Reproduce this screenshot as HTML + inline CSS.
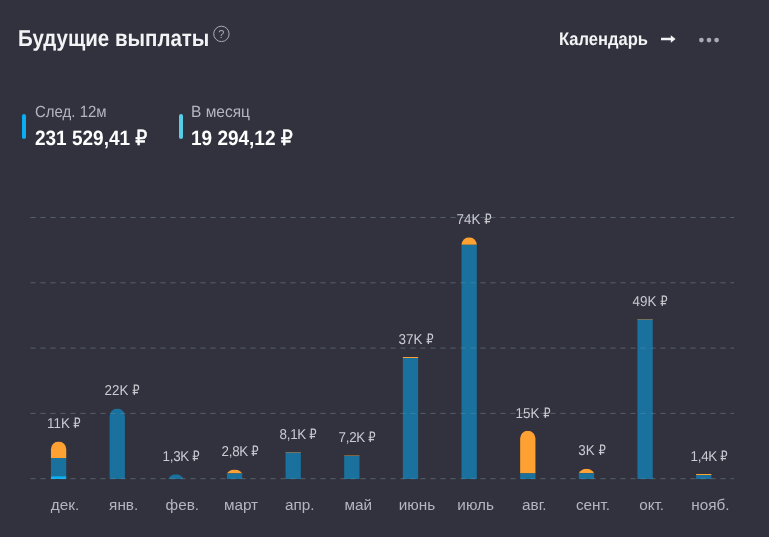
<!DOCTYPE html>
<html lang="ru">
<head>
<meta charset="utf-8">
<title>Будущие выплаты</title>
<style>
html,body{margin:0;padding:0;}
body{width:769px;height:537px;background:#32323e;overflow:hidden;position:relative;
 font-family:"Liberation Sans","DejaVu Sans",sans-serif;color:#fff;}
.abs{position:absolute;}
.t{position:absolute;white-space:nowrap;line-height:1;}
.h{font-weight:bold;color:#f3f3f5;}
.q{color:#a9abb4;}
.lbl{color:#b4b6bf;}
.val{font-weight:bold;color:#fff;}
.pill{position:absolute;width:4px;height:25px;border-radius:2px;top:114px;}
.m{color:#b4b6bf;}
.v{color:#c9cbd2;}
.rb{font-weight:normal;-webkit-text-stroke:0.5px #fff;}
.r{display:inline-block;transform:scaleX(0.86);transform-origin:0 50%;margin-right:-0.09em;}
</style>
</head>
<body>
<svg class="abs" style="left:0;top:0" width="769" height="537" viewBox="0 0 769 537">
<defs>
<clipPath id="c0"><path d="M50.95 479 V449.15 A7.650 7.650 0 0 1 66.25 449.15 V479 Z"/></clipPath>
<clipPath id="c1"><path d="M109.60 479 V416.15 A7.650 7.650 0 0 1 124.90 416.15 V479 Z"/></clipPath>
<clipPath id="c2"><path d="M168.25 479 V479.00 A8.576 8.576 0 0 1 183.55 479.00 V479 Z"/></clipPath>
<clipPath id="c3"><path d="M226.90 479 V473.40 A9.600 9.600 0 0 1 242.20 473.40 V479 Z"/></clipPath>
<clipPath id="c4"><path d="M285.55 479 V452.00 H300.85 V479 Z"/></clipPath>
<clipPath id="c5"><path d="M344.20 479 V455.30 H359.50 V479 Z"/></clipPath>
<clipPath id="c6"><path d="M402.85 479 V357.00 H418.15 V479 Z"/></clipPath>
<clipPath id="c7"><path d="M461.50 479 V244.80 A7.652 7.652 0 0 1 476.80 244.80 V479 Z"/></clipPath>
<clipPath id="c8"><path d="M520.15 479 V438.35 A7.650 7.650 0 0 1 535.45 438.35 V479 Z"/></clipPath>
<clipPath id="c9"><path d="M578.80 479 V473.20 A8.753 8.753 0 0 1 594.10 473.20 V479 Z"/></clipPath>
<clipPath id="c10"><path d="M637.45 479 V319.00 H652.75 V479 Z"/></clipPath>
<clipPath id="c11"><path d="M696.10 479 V474.00 H711.40 V479 Z"/></clipPath>
<clipPath id="call"><path d="M50.95 479 V449.15 A7.650 7.650 0 0 1 66.25 449.15 V479 Z"/><path d="M109.60 479 V416.15 A7.650 7.650 0 0 1 124.90 416.15 V479 Z"/><path d="M168.25 479 V479.00 A8.576 8.576 0 0 1 183.55 479.00 V479 Z"/><path d="M226.90 479 V473.40 A9.600 9.600 0 0 1 242.20 473.40 V479 Z"/><path d="M285.55 479 V452.00 H300.85 V479 Z"/><path d="M344.20 479 V455.30 H359.50 V479 Z"/><path d="M402.85 479 V357.00 H418.15 V479 Z"/><path d="M461.50 479 V244.80 A7.652 7.652 0 0 1 476.80 244.80 V479 Z"/><path d="M520.15 479 V438.35 A7.650 7.650 0 0 1 535.45 438.35 V479 Z"/><path d="M578.80 479 V473.20 A8.753 8.753 0 0 1 594.10 473.20 V479 Z"/><path d="M637.45 479 V319.00 H652.75 V479 Z"/><path d="M696.10 479 V474.00 H711.40 V479 Z"/></clipPath>
</defs>
<line x1="30.5" x2="734" y1="217.5" y2="217.5" stroke="#556069" stroke-width="1" stroke-dasharray="5 5"/>
<line x1="30.5" x2="734" y1="282.8" y2="282.8" stroke="#556069" stroke-width="1" stroke-dasharray="5 5"/>
<line x1="30.5" x2="734" y1="348.1" y2="348.1" stroke="#556069" stroke-width="1" stroke-dasharray="5 5"/>
<line x1="30.5" x2="734" y1="413.4" y2="413.4" stroke="#556069" stroke-width="1" stroke-dasharray="5 5"/>
<line x1="30.5" x2="734" y1="478.7" y2="478.7" stroke="#556069" stroke-width="1" stroke-dasharray="5 5"/>
<g clip-path="url(#c0)">
<rect x="49.95" y="441.50" width="17.3" height="16.50" fill="#fda232"/>
<rect x="49.95" y="458.00" width="17.3" height="18.20" fill="#1b719e"/>
<rect x="49.95" y="476.20" width="17.3" height="2.80" fill="#0cb0f4"/>
</g>
<g clip-path="url(#c1)">
<rect x="108.60" y="408.50" width="17.3" height="70.50" fill="#1b719e"/>
</g>
<g clip-path="url(#c2)">
<rect x="167.25" y="474.30" width="17.3" height="4.70" fill="#1b719e"/>
</g>
<g clip-path="url(#c3)">
<rect x="225.90" y="469.60" width="17.3" height="3.80" fill="#fda232"/>
<rect x="225.90" y="473.40" width="17.3" height="5.60" fill="#1b719e"/>
</g>
<g clip-path="url(#c4)">
<rect x="284.55" y="452.00" width="17.3" height="0.60" fill="#fda232"/>
<rect x="284.55" y="452.60" width="17.3" height="26.40" fill="#1b719e"/>
</g>
<g clip-path="url(#c5)">
<rect x="343.20" y="455.30" width="17.3" height="0.60" fill="#fda232"/>
<rect x="343.20" y="455.90" width="17.3" height="23.10" fill="#1b719e"/>
</g>
<g clip-path="url(#c6)">
<rect x="401.85" y="357.00" width="17.3" height="1.00" fill="#fda232"/>
<rect x="401.85" y="358.00" width="17.3" height="121.00" fill="#1b719e"/>
</g>
<g clip-path="url(#c7)">
<rect x="460.50" y="237.30" width="17.3" height="7.50" fill="#fda232"/>
<rect x="460.50" y="244.80" width="17.3" height="234.20" fill="#1b719e"/>
</g>
<g clip-path="url(#c8)">
<rect x="519.15" y="430.70" width="17.3" height="42.70" fill="#fda232"/>
<rect x="519.15" y="473.40" width="17.3" height="5.60" fill="#1b719e"/>
</g>
<g clip-path="url(#c9)">
<rect x="577.80" y="468.70" width="17.3" height="4.50" fill="#fda232"/>
<rect x="577.80" y="473.20" width="17.3" height="5.80" fill="#1b719e"/>
</g>
<g clip-path="url(#c10)">
<rect x="636.45" y="319.00" width="17.3" height="0.60" fill="#fda232"/>
<rect x="636.45" y="319.60" width="17.3" height="159.40" fill="#1b719e"/>
</g>
<g clip-path="url(#c11)">
<rect x="695.10" y="474.00" width="17.3" height="1.00" fill="#fda232"/>
<rect x="695.10" y="475.00" width="17.3" height="4.00" fill="#1b719e"/>
</g>
<g clip-path="url(#call)">
<line x1="30.5" x2="734" y1="217.5" y2="217.5" stroke="#8fb0c8" stroke-opacity="0.25" stroke-width="1" stroke-dasharray="5 5"/>
<line x1="30.5" x2="734" y1="282.8" y2="282.8" stroke="#8fb0c8" stroke-opacity="0.25" stroke-width="1" stroke-dasharray="5 5"/>
<line x1="30.5" x2="734" y1="348.1" y2="348.1" stroke="#8fb0c8" stroke-opacity="0.25" stroke-width="1" stroke-dasharray="5 5"/>
<line x1="30.5" x2="734" y1="413.4" y2="413.4" stroke="#8fb0c8" stroke-opacity="0.25" stroke-width="1" stroke-dasharray="5 5"/>
<line x1="30.5" x2="734" y1="478.7" y2="478.7" stroke="#8fb0c8" stroke-opacity="0.25" stroke-width="1" stroke-dasharray="5 5"/>
</g>
<circle cx="221.4" cy="33.9" r="7.7" fill="none" stroke="#a9abb4" stroke-width="1"/>
<path d="M661 37.75 H670.8 V35.2 L675.6 39 L670.8 42.8 V40.25 H661 Z" fill="#f3f3f5"/>
<circle cx="701.4" cy="40.1" r="2.35" fill="#a8aab4"/>
<circle cx="709.0" cy="40.1" r="2.35" fill="#a8aab4"/>
<circle cx="716.6" cy="40.1" r="2.35" fill="#a8aab4"/>
</svg>
<div class="t h" style="top:26.88px;font-size:23.06px;left:18.00px;transform-origin:0 0;transform:scaleX(0.8889) rotate(0.03deg);">Будущие выплаты</div>
<div class="t q" style="top:28.89px;font-size:11.00px;left:161.40px;width:120px;text-align:center;transform-origin:50% 0;">?</div>
<div class="t h" style="top:29.93px;font-size:18.04px;left:559.00px;transform-origin:0 0;transform:scaleX(0.9174) rotate(0.03deg);">Календарь</div>
<div class="t lbl" style="top:103.29px;font-size:16.20px;left:35.00px;transform-origin:0 0;transform:scaleX(0.9259) rotate(0.03deg);">След. 12м</div>
<div class="t val" style="top:127.91px;font-size:20.90px;left:35.00px;transform-origin:0 0;transform:scaleX(0.9091) rotate(0.03deg);">231 529,41 <span class="rb">₽</span></div>
<div class="t lbl" style="top:103.29px;font-size:16.20px;left:191.30px;transform-origin:0 0;transform:scaleX(0.9569) rotate(0.03deg);">В месяц</div>
<div class="t val" style="top:127.91px;font-size:20.90px;left:191.30px;transform-origin:0 0;transform:scaleX(0.9091) rotate(0.03deg);">19 294,12 <span class="rb">₽</span></div>
<div class="pill" style="left:22px;background:#09adf1"></div>
<div class="pill" style="left:179px;background:#57cee5"></div>
<div class="t m" style="top:497.05px;font-size:15.30px;left:5.00px;width:120px;text-align:center;transform-origin:50% 0;">дек.</div>
<div class="t m" style="top:497.05px;font-size:15.30px;left:63.67px;width:120px;text-align:center;transform-origin:50% 0;">янв.</div>
<div class="t m" style="top:497.05px;font-size:15.30px;left:122.33px;width:120px;text-align:center;transform-origin:50% 0;">фев.</div>
<div class="t m" style="top:497.05px;font-size:15.30px;left:181.00px;width:120px;text-align:center;transform-origin:50% 0;">март</div>
<div class="t m" style="top:497.05px;font-size:15.30px;left:239.67px;width:120px;text-align:center;transform-origin:50% 0;">апр.</div>
<div class="t m" style="top:497.05px;font-size:15.30px;left:298.33px;width:120px;text-align:center;transform-origin:50% 0;">май</div>
<div class="t m" style="top:497.05px;font-size:15.30px;left:357.00px;width:120px;text-align:center;transform-origin:50% 0;">июнь</div>
<div class="t m" style="top:497.05px;font-size:15.30px;left:415.67px;width:120px;text-align:center;transform-origin:50% 0;">июль</div>
<div class="t m" style="top:497.05px;font-size:15.30px;left:474.33px;width:120px;text-align:center;transform-origin:50% 0;">авг.</div>
<div class="t m" style="top:497.05px;font-size:15.30px;left:533.00px;width:120px;text-align:center;transform-origin:50% 0;">сент.</div>
<div class="t m" style="top:497.05px;font-size:15.30px;left:591.67px;width:120px;text-align:center;transform-origin:50% 0;">окт.</div>
<div class="t m" style="top:497.05px;font-size:15.30px;left:650.33px;width:120px;text-align:center;transform-origin:50% 0;">нояб.</div>
<div class="t v" style="top:415.76px;font-size:14.34px;left:3.70px;width:120px;text-align:center;transform-origin:50% 0;transform:scaleX(0.9346) rotate(0.03deg);">11K <span class="r">₽</span></div>
<div class="t v" style="top:383.06px;font-size:14.34px;left:62.37px;width:120px;text-align:center;transform-origin:50% 0;transform:scaleX(0.9346) rotate(0.03deg);">22K <span class="r">₽</span></div>
<div class="t v" style="top:449.06px;font-size:14.34px;left:121.03px;width:120px;text-align:center;transform-origin:50% 0;transform:scaleX(0.9346) rotate(0.03deg);letter-spacing:-0.3px;">1,3K <span class="r">₽</span></div>
<div class="t v" style="top:444.06px;font-size:14.34px;left:179.70px;width:120px;text-align:center;transform-origin:50% 0;transform:scaleX(0.9346) rotate(0.03deg);letter-spacing:-0.3px;">2,8K <span class="r">₽</span></div>
<div class="t v" style="top:427.16px;font-size:14.34px;left:238.37px;width:120px;text-align:center;transform-origin:50% 0;transform:scaleX(0.9346) rotate(0.03deg);letter-spacing:-0.3px;">8,1K <span class="r">₽</span></div>
<div class="t v" style="top:429.96px;font-size:14.34px;left:297.03px;width:120px;text-align:center;transform-origin:50% 0;transform:scaleX(0.9346) rotate(0.03deg);letter-spacing:-0.3px;">7,2K <span class="r">₽</span></div>
<div class="t v" style="top:332.06px;font-size:14.34px;left:355.70px;width:120px;text-align:center;transform-origin:50% 0;transform:scaleX(0.9346) rotate(0.03deg);">37K <span class="r">₽</span></div>
<div class="t v" style="top:212.06px;font-size:14.34px;left:414.37px;width:120px;text-align:center;transform-origin:50% 0;transform:scaleX(0.9346) rotate(0.03deg);">74K <span class="r">₽</span></div>
<div class="t v" style="top:405.76px;font-size:14.34px;left:473.03px;width:120px;text-align:center;transform-origin:50% 0;transform:scaleX(0.9346) rotate(0.03deg);">15K <span class="r">₽</span></div>
<div class="t v" style="top:443.46px;font-size:14.34px;left:531.70px;width:120px;text-align:center;transform-origin:50% 0;transform:scaleX(0.9346) rotate(0.03deg);">3K <span class="r">₽</span></div>
<div class="t v" style="top:293.86px;font-size:14.34px;left:590.37px;width:120px;text-align:center;transform-origin:50% 0;transform:scaleX(0.9346) rotate(0.03deg);">49K <span class="r">₽</span></div>
<div class="t v" style="top:448.96px;font-size:14.34px;left:649.03px;width:120px;text-align:center;transform-origin:50% 0;transform:scaleX(0.9346) rotate(0.03deg);letter-spacing:-0.3px;">1,4K <span class="r">₽</span></div>
</body>
</html>
